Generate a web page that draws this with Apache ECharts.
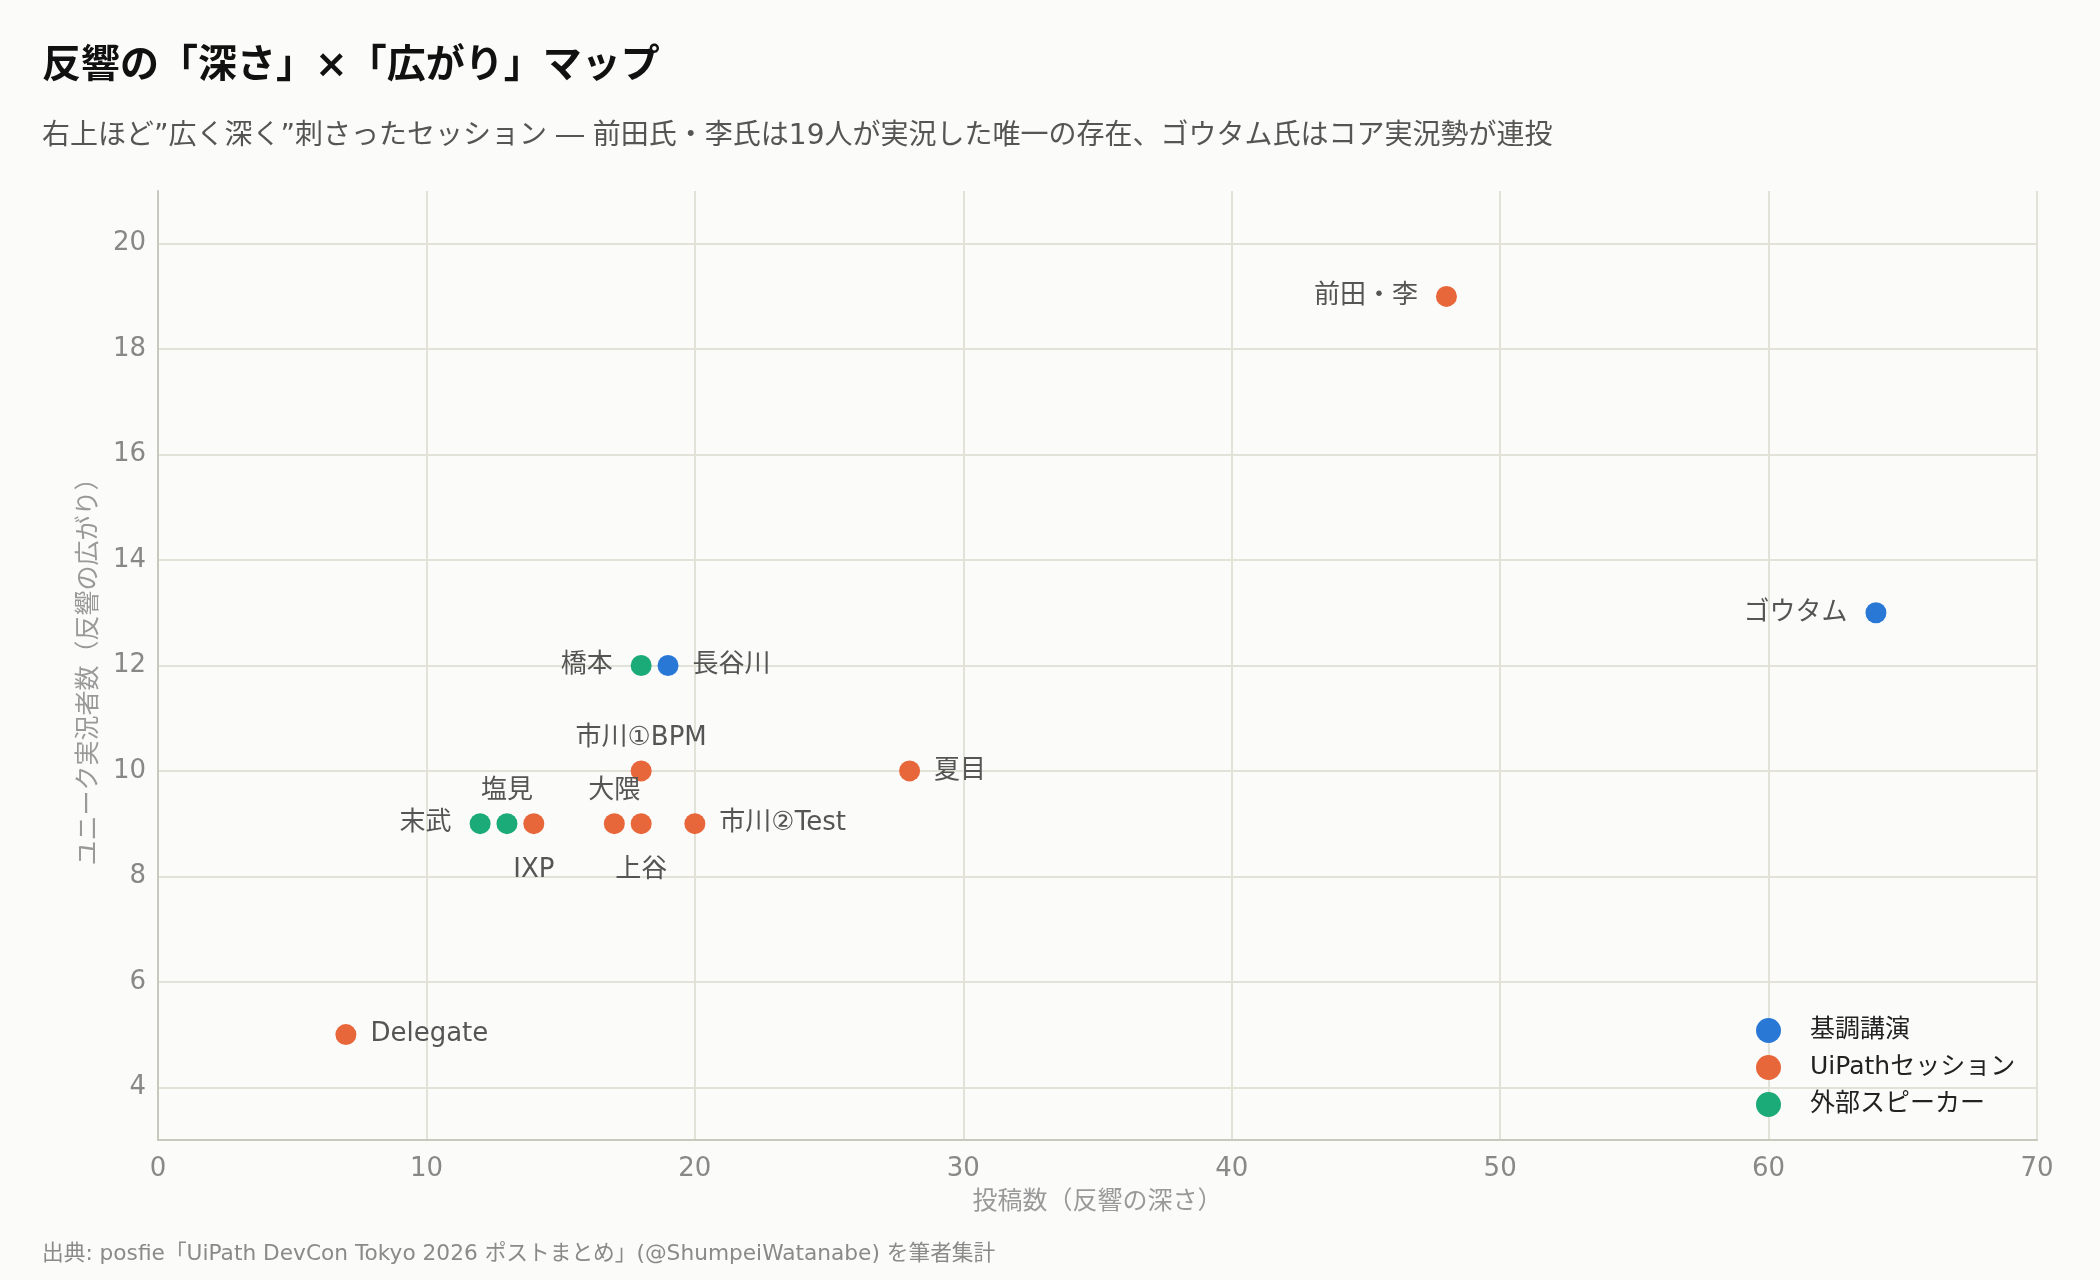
<!DOCTYPE html>
<html>
<head>
<meta charset="utf-8" />
<title>反響の「深さ」×「広がり」マップ</title>
<script src="https://cdn.jsdelivr.net/npm/echarts@6/dist/echarts.min.js"></script>
<style>
  html, body { margin: 0; padding: 0; background: #fbfbfa; }
  #chart { width: 2100px; height: 1280px; }
</style>
</head>
<body>
<div id="chart"></div>
<script>
// カテゴリ
var groups = ['基調講演', 'UiPathセッション', '外部スピーカー'];
var groupColors = ['#2a78d6', '#e8673a', '#1aab78'];

// セッションごとの値（投稿数, ユニーク実況者数）
var names    = ['前田・李', 'ゴウタム', '橋本', '長谷川', '市川①BPM', '夏目', '末武', '塩見', 'IXP', '大隈', '上谷', '市川②Test', 'Delegate'];
var posts    = [48, 64, 18, 19, 18, 28, 12, 13, 14, 17, 18, 20, 7];
var users    = [19, 13, 12, 12, 10, 10,  9,  9,  9,  9,  9,  9, 5];
var groupIdx = [ 1,  0,  2,  0,  1,  1,  2,  2,  1,  1,  1,  1, 1];
var labelPos = ['left', 'left', 'left', 'right', 'top', 'right', 'left', 'top', 'bottom', 'top', 'bottom', 'right', 'right'];

var FONT = "'DejaVu Sans', 'Noto Sans CJK JP', sans-serif";
// ラベルと点の間隔（位置ごと）
var labelGap = { left: 18, right: 14, top: 9, bottom: 23 };

var series = groups.map(function (g, gi) {
  var data = [];
  names.forEach(function (n, i) {
    if (groupIdx[i] !== gi) return;
    data.push({
      name: n,
      value: [posts[i], users[i]],
      label: { position: labelPos[i], distance: labelGap[labelPos[i]] }
    });
  });
  return {
    name: g,
    type: 'scatter',
    symbolSize: 21,
    itemStyle: { color: groupColors[gi], opacity: 1 },
    label: {
      show: true,
      formatter: '{b}',
      color: '#555555',
      fontSize: 26,
      fontFamily: FONT
    },
    data: data
  };
});

var myChart = echarts.init(document.getElementById('chart'));
var option = {
  backgroundColor: '#fbfbfa',
  animation: false,
  textStyle: { fontFamily: FONT },
  title: [
    {
      text: '反響の「深さ」×「広がり」マップ',
      left: 37, top: 42,
      textStyle: { fontSize: 39, fontWeight: 'bold', color: '#111111', fontFamily: FONT }
    },
    {
      text: '右上ほど”広く深く”刺さったセッション ― 前田氏・李氏は19人が実況した唯一の存在、ゴウタム氏はコア実況勢が連投',
      left: 37, top: 118,
      textStyle: { fontSize: 28, fontWeight: 'normal', color: '#555555', fontFamily: FONT }
    },
    {
      text: '出典: posfie「UiPath DevCon Tokyo 2026 ポストまとめ」(@ShumpeiWatanabe) を筆者集計',
      left: 37, top: 1239,
      textStyle: { fontSize: 21.7, fontWeight: 'normal', color: '#8a8a8a', fontFamily: FONT }
    }
  ],
  legend: {
    orient: 'vertical',
    left: 1751, top: 1013,
    itemWidth: 25, itemHeight: 25, itemGap: 12,
    icon: 'circle',
    textStyle: { fontSize: 25, color: '#222222', fontFamily: FONT, padding: [0, 0, 0, 24] },
    data: groups
  },
  grid: { left: 158, right: 63, top: 191, bottom: 140 },
  xAxis: {
    type: 'value',
    min: 0, max: 70, interval: 10,
    name: '投稿数（反響の深さ）',
    nameLocation: 'middle',
    nameGap: 50,
    nameTextStyle: { fontSize: 25, color: '#999999', fontFamily: FONT },
    axisLine: { show: true, lineStyle: { color: '#c8c8bc', width: 2 } },
    axisTick: { show: false },
    axisLabel: { fontSize: 26, color: '#888888', margin: 16, fontFamily: FONT },
    splitLine: { show: true, showMinLine: false, lineStyle: { color: '#e2e2d8', width: 2 } }
  },
  yAxis: {
    type: 'value',
    min: 3, max: 21, splitNumber: 9,
    name: 'ユニーク実況者数（反響の広がり）',
    nameLocation: 'middle',
    nameGap: 56,
    nameTextStyle: { fontSize: 25, color: '#999999', fontFamily: FONT },
    axisLine: { show: true, lineStyle: { color: '#c8c8bc', width: 2 } },
    axisTick: { show: false },
    axisLabel: { fontSize: 26, color: '#888888', margin: 12, showMinLabel: false, showMaxLabel: false, fontFamily: FONT },
    splitLine: { show: true, showMinLine: false, showMaxLine: false, lineStyle: { color: '#e2e2d8', width: 2 } }
  },
  series: series
};
myChart.setOption(option);
</script>
</body>
</html>
